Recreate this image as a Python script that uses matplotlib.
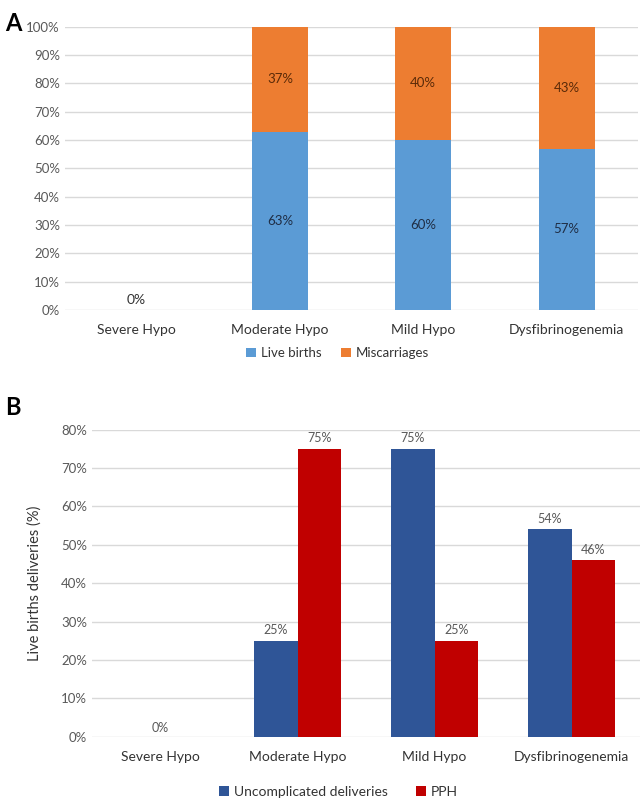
import matplotlib.pyplot as plt
import numpy as np

plt.rcParams['font.family'] = ['Lato', 'DejaVu Sans']

categories = ['Severe Hypo', 'Moderate Hypo', 'Mild Hypo', 'Dysfibrinogenemia']
live_births = [0, 63, 60, 57]
miscarriages = [0, 37, 40, 43]
uncomplicated = [0, 25, 75, 54]
pph = [0, 75, 25, 46]

tick_col = '#595959'
grid_col = '#d9d9d9'

fig = plt.figure(figsize=(6.41, 8), dpi=100)

# panel A
axA = fig.add_axes([0.101, 0.6125, 0.895, 0.354])
x = np.arange(len(categories))
w = 0.39
axA.bar(x, live_births, w, color='#5b9bd5', label='Live births', zorder=3)
axA.bar(x, miscarriages, w, bottom=live_births, color='#ed7d31', label='Miscarriages', zorder=3)
for i in range(len(categories)):
    if live_births[i] == 0:
        axA.text(x[i], 1.5, '0%', ha='center', va='bottom', fontsize=10, color='#333333')
        continue
    axA.text(x[i], live_births[i] / 2, f'{live_births[i]}%', ha='center', va='center',
             fontsize=9.5, color='#1f2d44')
    axA.text(x[i], live_births[i] + miscarriages[i] / 2, f'{miscarriages[i]}%', ha='center',
             va='center', fontsize=9.5, color='#5a2a08')
axA.set_xlim(-0.5, 3.5)
axA.set_ylim(0, 100)
axA.set_yticks(np.arange(0, 101, 10))
axA.set_yticklabels([f'{v}%' for v in range(0, 101, 10)])
axA.set_xticks(x)
axA.set_xticklabels(categories)
axA.yaxis.grid(True, color=grid_col, lw=1, zorder=0)
for s in axA.spines.values():
    s.set_visible(False)
axA.tick_params(length=0, colors=tick_col, labelsize=9.5)
axA.tick_params(axis='x', pad=10, labelsize=10, colors='#333333')
axA.legend(loc='upper center', bbox_to_anchor=(0.476, -0.09), ncol=2, frameon=False,
           fontsize=9.5, handlelength=0.7, handleheight=0.7, columnspacing=1.5,
           labelcolor='#333333', handletextpad=0.4)
fig.text(0.008, 0.985, 'A', fontsize=17, fontweight='bold', va='top')

# panel B
axB = fig.add_axes([0.1435, 0.079, 0.855, 0.384])
wb = 0.32
axB.bar(x - wb / 2, uncomplicated, wb, color='#2f5597', label='Uncomplicated deliveries', zorder=3)
axB.bar(x + wb / 2, pph, wb, color='#c00000', label='PPH', zorder=3)
for i in range(len(categories)):
    if uncomplicated[i] == 0 and pph[i] == 0:
        axB.text(x[i], 0.8, '0%', ha='center', va='bottom', fontsize=9, color=tick_col)
        continue
    axB.text(x[i] - wb / 2, uncomplicated[i] + 1.2, f'{uncomplicated[i]}%', ha='center',
             va='bottom', fontsize=9, color=tick_col)
    axB.text(x[i] + wb / 2, pph[i] + 1.2, f'{pph[i]}%', ha='center', va='bottom',
             fontsize=9, color=tick_col)
axB.set_xlim(-0.5, 3.5)
axB.set_ylim(0, 80)
axB.set_yticks(np.arange(0, 81, 10))
axB.set_yticklabels([f'{v}%' for v in range(0, 81, 10)])
axB.set_xticks(x)
axB.set_xticklabels(categories)
axB.yaxis.grid(True, color=grid_col, lw=1, zorder=0)
for s in axB.spines.values():
    s.set_visible(False)
axB.tick_params(length=0, colors=tick_col, labelsize=9.5)
axB.tick_params(axis='x', pad=10, labelsize=10, colors='#333333')
axB.set_ylabel('Live births deliveries (%)', fontsize=10.5, color='#333333', labelpad=14)
axB.legend(loc='upper center', bbox_to_anchor=(0.45, -0.12), ncol=2, frameon=False,
           fontsize=10, handlelength=0.7, handleheight=0.7, columnspacing=2.0,
           labelcolor='#333333', handletextpad=0.4)
fig.text(0.008, 0.505, 'B', fontsize=17, fontweight='bold', va='top')

fig.savefig('out.png', dpi=100, facecolor='white')
